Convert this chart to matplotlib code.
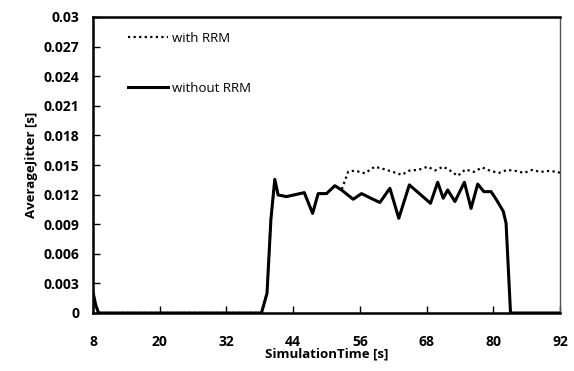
import matplotlib.pyplot as plt

# without RRM (solid)
t_without = [8, 8.5, 9, 20, 32, 38.3, 39.3, 40.0, 40.7, 41.3, 42.8, 44.9, 46.0, 47.5, 48.5, 50.0,
             51.5, 52.7, 54.8, 56.3, 58.1, 59.6, 61.4, 63.0, 64.9, 67.0, 68.7, 70.0, 71.0,
             71.8, 73.1, 74.8, 76.0, 77.2, 78.3, 79.6, 80.6, 81.8, 82.3, 83.1, 86, 92]
j_without = [0.0021, 0.0008, 0.0, 0.0, 0.0, 0.0, 0.002, 0.0095, 0.01355, 0.01196, 0.0118, 0.01206,
             0.0122, 0.0101, 0.0121, 0.0121, 0.0129, 0.01247, 0.01153, 0.0121, 0.0116, 0.0112,
             0.01264, 0.0096, 0.01298, 0.01196, 0.01112, 0.01325, 0.01163, 0.01247, 0.0113,
             0.01325, 0.0106, 0.01307, 0.0123, 0.0123, 0.01145, 0.0103, 0.0091, 0.0, 0.0, 0.0]

# with RRM (dotted) - same as above until ~52.7, then stays up
t_with = [8, 8.5, 9, 20, 32, 38.3, 39.3, 40.0, 40.7, 41.3, 42.8, 44.9, 46.0, 47.5, 48.5, 50.0,
          51.5, 52.7, 53.9, 55.1, 56.9, 58.7, 60.4, 62.5, 63.5, 65.0, 66.5, 68.2, 69.5, 71.0,
          72.2, 73.6, 75.0, 76.5, 78.0, 79.5, 81.0, 82.5, 84.0, 85.5, 87.0, 88.5, 90.0, 91.6, 92]
j_with = [0.0021, 0.0008, 0.0, 0.0, 0.0, 0.0, 0.002, 0.0095, 0.01355, 0.01196, 0.0118, 0.01206,
          0.0122, 0.0101, 0.0121, 0.0121, 0.0129, 0.01247, 0.01432, 0.01443, 0.01416, 0.01483,
          0.01457, 0.0142, 0.0140, 0.01445, 0.0145, 0.01483, 0.01445, 0.01483, 0.01445, 0.0139,
          0.01455, 0.0143, 0.01475, 0.0144, 0.0142, 0.0145, 0.0144, 0.0142, 0.0145, 0.0143,
          0.0144, 0.0143, 0.0142]

xticks = [8, 20, 32, 44, 56, 68, 80, 92]
yticks = [0, 0.003, 0.006, 0.009, 0.012, 0.015, 0.018, 0.021, 0.024, 0.027, 0.03]
ylabels = ['0', '0.003', '0.006', '0.009', '0.012', '0.015', '0.018', '0.021', '0.024', '0.027', '0.03']

plt.rcParams['font.family'] = ['Open Sans', 'DejaVu Sans']

fig = plt.figure(figsize=(5.74, 3.71), dpi=100)
ax = fig.add_axes([93 / 574, 1 - 313 / 371, (560 - 93) / 574, (313 - 17) / 371])

ax.plot(t_with, j_with, color='black', linestyle=(0, (1, 1.5)), linewidth=1.6, label='with RRM')
ax.plot(t_without, j_without, color='black', linestyle='-', linewidth=2.2, label='without RRM')

ax.set_xlim(8, 92)
ax.set_ylim(0, 0.03)
ax.set_xticks(xticks)
ax.set_xticklabels([str(v) for v in xticks], fontsize=10, fontweight='bold')
ax.set_yticks(yticks)
ax.set_yticklabels(ylabels, fontsize=10, fontweight='bold')
ax.tick_params(axis='x', direction='in', length=5, pad=16, width=1)
ax.tick_params(axis='y', direction='in', length=5, pad=10, width=1)

for s in ['left', 'bottom', 'top']:
    ax.spines[s].set_linewidth(1.8)
ax.spines['right'].set_linewidth(1.0)
ax.spines['right'].set_color('#555555')

ax.set_xlabel('SimulationTime [s]', fontsize=9.5, fontweight='bold', labelpad=-1)
ax.set_ylabel('AverageJitter [s]', fontsize=9.5, fontweight='bold', labelpad=4)

leg = ax.legend(loc='upper left', bbox_to_anchor=(0.05, 0.99), frameon=False, fontsize=9.5,
                handlelength=3.0, labelspacing=2.8, handletextpad=0.3)

fig.savefig('out.png', dpi=100)
